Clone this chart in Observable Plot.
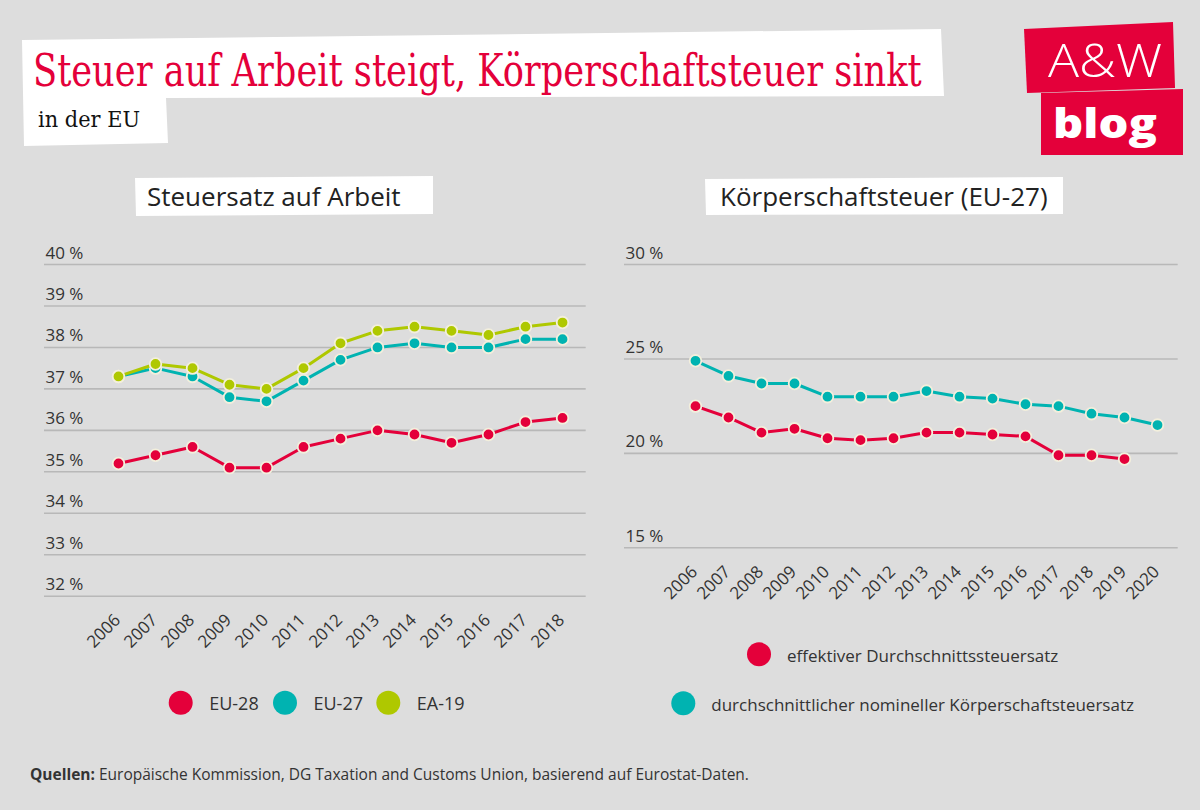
<!DOCTYPE html>
<html><head><meta charset="utf-8">
<script src="https://cdn.jsdelivr.net/npm/d3@7"></script>
<script src="https://cdn.jsdelivr.net/npm/@observablehq/plot@0.6"></script>
<style>
body{margin:0;background:#dddddd;}
#page{position:relative;width:1200px;height:810px;overflow:hidden;background:#dddddd;font-family:"Open Sans",sans-serif;color:#333;}
.abs{position:absolute;}
</style></head><body><div id="page"></div>
<script>
// ---- data ----
const yearsArbeit = [2006,2007,2008,2009,2010,2011,2012,2013,2014,2015,2016,2017,2018];
const eu28 = [35.2,35.4,35.6,35.1,35.1,35.6,35.8,36.0,35.9,35.7,35.9,36.2,36.3];
const eu27 = [37.3,37.5,37.3,36.8,36.7,37.2,37.7,38.0,38.1,38.0,38.0,38.2,38.2];
const ea19 = [37.3,37.6,37.5,37.1,37.0,37.5,38.1,38.4,38.5,38.4,38.3,38.5,38.6];
const leftSeries = ["EU-28","EU-27","EA-19"];
const leftColors = ["#e4003a","#00b3b1","#afc800"];
const leftTicks = [32,33,34,35,36,37,38,39,40];

const yearsKoerp = [2006,2007,2008,2009,2010,2011,2012,2013,2014,2015,2016,2017,2018,2019,2020];
const effektiv = [22.5,21.9,21.1,21.3,20.8,20.7,20.8,21.1,21.1,21.0,20.9,19.9,19.9,19.7];
const nominal  = [24.9,24.1,23.7,23.7,23.0,23.0,23.0,23.3,23.0,22.9,22.6,22.5,22.1,21.9,21.5];
const rightSeries = ["effektiver Durchschnittssteuersatz","durchschnittlicher nomineller Körperschaftsteuersatz"];
const rightColors = ["#e4003a","#00b3b1"];
const rightTicks = [15,20,25,30];

const titleText = "Steuer auf Arbeit steigt, Körperschaftsteuer sinkt";
const subtitleText = "in der EU";
const leftTitle = "Steuersatz auf Arbeit";
const rightTitle = "Körperschaftsteuer (EU-27)";

// ---- helpers ----
function rows(ys, vals, name){ return vals.map((v,i)=>({year: ys[i], value: v, series: name})); }
const page = document.getElementById("page");
const NS = "http://www.w3.org/2000/svg";
function el(tag, attrs, parent, text){
  const e = document.createElementNS(NS, tag);
  for (const k in attrs) e.setAttribute(k, attrs[k]);
  if (text != null) e.textContent = text;
  parent.appendChild(e); return e;
}
// text squeezed horizontally to a target width (via transform, so its box is the drawn box)
function fitText(parent, x, y, width, attrs, text){
  const t = el("text", Object.assign({x:0, y:0}, attrs), parent, text);
  const w = t.getComputedTextLength() || width;
  t.setAttribute("transform", `translate(${x},${y}) scale(${width / w},1)`);
  return t;
}
const dotStroke = "#f3efdc";
function seriesMarks(data, names){
  const m = [];
  for (const n of names){
    const d = data.filter(r => r.series === n);
    m.push(Plot.line(d, {x:"year", y:"value", stroke:"series", strokeWidth:3}));
    m.push(Plot.dot(d, {x:"year", y:"value", fill:"series", r:5.8, stroke:dotStroke, strokeWidth:1.8}));
  }
  return m;
}
function yAxis(ticks){
  return Plot.axisY(ticks, {tickSize:0, tickPadding:0, textAnchor:"start", dx:1, lineAnchor:"bottom", dy:-6, tickFormat:d => d + " %", fill:"#333", fontSize:17, label:null});
}
function xAxis(years){
  return Plot.axisX(years, {tickSize:0, tickPadding:0, tickRotate:-45, textAnchor:"end", lineAnchor:"bottom", dx:3, dy:25, fontSize:17, fill:"#333", tickFormat:d => String(d), label:null});
}

// ---- decoration layer (title, logo) ----
const deco = el("svg", {width:1200, height:810, class:"abs", style:"left:0;top:0"}, page);
el("polygon", {points:"22,40 941,29 944,96 166,98 168,143 24,146", fill:"#ffffff"}, deco);
fitText(deco, 33, 86, 889, {"font-family":"DejaVu Serif, serif", "font-size":44, fill:"#e4003a"}, titleText);
fitText(deco, 38, 127, 102, {"font-family":"DejaVu Serif, serif", "font-size":23, fill:"#111"}, subtitleText);
// logo
el("polygon", {points:"1024,29 1173,22 1175,88 1027,93", fill:"#e4003a"}, deco);
el("polygon", {points:"1041,93 1183,89 1183,155 1041,155", fill:"#e4003a"}, deco);
fitText(deco, 1048, 77, 114, {"font-family":"Open Sans, sans-serif", "font-weight":300, "font-size":46, fill:"#fff"}, "A&W");
fitText(deco, 1053, 138, 104, {"font-family":"Open Sans, sans-serif", "font-weight":800, "font-size":41, fill:"#fff"}, "blog");
// panel titles
el("polygon", {points:"135,178 433,176 433,214 136,216", fill:"#fff"}, deco);
el("text", {x:147, y:206, "font-family":"Open Sans, sans-serif", "font-size":26, fill:"#222"}, deco, leftTitle);
el("polygon", {points:"705,179 1063,177 1063,214 706,215", fill:"#fff"}, deco);
el("text", {x:720, y:206, "font-family":"Open Sans, sans-serif", "font-size":26, fill:"#222"}, deco, rightTitle);

// ---- left chart ----
const leftData = [
  ...rows(yearsArbeit, eu28, "EU-28"),
  ...rows(yearsArbeit, eu27, "EU-27"),
  ...rows(yearsArbeit, ea19, "EA-19")
];
const axisStyle = {background:"transparent", fontFamily:"Open Sans, sans-serif", color:"#333", overflow:"visible"};
const left = Plot.plot({
  width:600, height:440, marginLeft:44, marginRight:14.3, marginTop:34, marginBottom:74.3,
  style: axisStyle,
  x:{type:"point", domain: yearsArbeit, range:[113.7, 567.3], padding:0},
  y:{domain:[32,40]},
  color:{domain:leftSeries, range:leftColors},
  marks:[
    Plot.gridY(leftTicks, {stroke:"#b8b8b8", strokeOpacity:1, strokeWidth:1.6}),
    yAxis(leftTicks),
    xAxis(yearsArbeit),
    ...seriesMarks(leftData, leftSeries)
  ]
});
left.setAttribute("class","abs"); left.style.left = "0px"; left.style.top = "230px";
page.appendChild(left);

// ---- right chart ----
const rightData = [
  ...rows(yearsKoerp, effektiv, rightSeries[0]),
  ...rows(yearsKoerp, nominal, rightSeries[1])
];
const right = Plot.plot({
  width:600, height:440, marginLeft:24, marginRight:22.3, marginTop:34, marginBottom:122.7,
  style: axisStyle,
  x:{type:"point", domain: yearsKoerp, range:[90.7, 561], padding:0},
  y:{domain:[15,30]},
  color:{domain:rightSeries, range:rightColors},
  marks:[
    Plot.gridY(rightTicks, {stroke:"#b8b8b8", strokeOpacity:1, strokeWidth:1.6}),
    yAxis(rightTicks),
    xAxis(yearsKoerp),
    ...seriesMarks(rightData, [rightSeries[1], rightSeries[0]])
  ]
});
right.setAttribute("class","abs"); right.style.left = "600px"; right.style.top = "230px";
page.appendChild(right);

// ---- legends & footer ----
const leg = el("svg", {width:1200, height:810, class:"abs", style:"left:0;top:0;pointer-events:none"}, page);
const leftLegendX = [180.7, 285, 388.3];
leftSeries.forEach((n,i) => {
  el("circle", {cx:leftLegendX[i], cy:702.7, r:12, fill:leftColors[i]}, leg);
  el("text", {x:leftLegendX[i]+28.5, y:710, "font-family":"Open Sans, sans-serif", "font-size":18, fill:"#333"}, leg, n);
});
const rightLegendPos = [[759,654.3],[683.3,703.3]];
rightSeries.forEach((n,i) => {
  const [cx,cy] = rightLegendPos[i];
  el("circle", {cx, cy, r:12, fill:rightColors[i]}, leg);
  el("text", {x:cx+28, y:cy+7.3, "font-family":"Open Sans, sans-serif", "font-size":17, fill:"#333"}, leg, n);
});
const foot = el("text", {x:30, y:780, "font-family":"Open Sans, sans-serif", "font-size":15.5, fill:"#333"}, leg);
el("tspan", {"font-weight":700}, foot, "Quellen:");
el("tspan", {}, foot, " Europäische Kommission, DG Taxation and Customs Union, basierend auf Eurostat-Daten.");
</script>
</body></html>
